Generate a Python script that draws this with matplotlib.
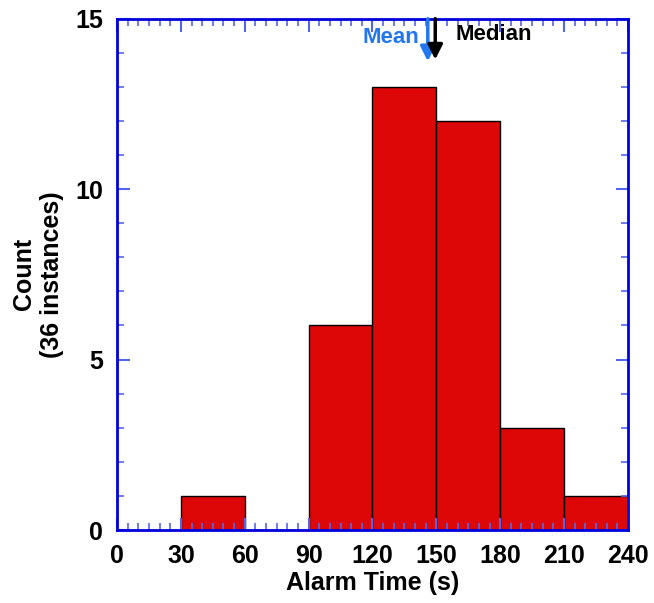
import matplotlib
matplotlib.use("Agg")
import matplotlib.pyplot as plt
from matplotlib.ticker import MultipleLocator

# histogram of alarm times, 30 s bins
bin_left = [30, 90, 120, 150, 180, 210]
counts = [1, 6, 13, 12, 3, 1]
bin_width = 30
mean_time = 146.0
median_time = 149.5

plt.rcParams["font.family"] = ["Liberation Sans", "DejaVu Sans"]
plt.rcParams["font.weight"] = "bold"

fig = plt.figure(figsize=(6.54, 6.03), dpi=100)
ax = fig.add_axes([0.179, 0.121, 0.781, 0.848])

ax.bar(bin_left, counts, width=bin_width, align="edge",
       color="#dd0707", edgecolor="black", linewidth=1)

ax.set_xlim(0, 240)
ax.set_ylim(0, 15)
ax.xaxis.set_major_locator(MultipleLocator(30))
ax.xaxis.set_minor_locator(MultipleLocator(5))
ax.yaxis.set_major_locator(MultipleLocator(5))
ax.yaxis.set_minor_locator(MultipleLocator(1))

spine_col = "#0000dd"
for s in ax.spines.values():
    s.set_color(spine_col)
    s.set_linewidth(2)
ax.tick_params(which="both", direction="in", top=True, right=True,
               color="#5566ee", labelsize=18, pad=10)
ax.tick_params(which="major", length=9, width=1.5)
ax.tick_params(which="minor", length=5, width=1.2)
for lab in ax.get_xticklabels() + ax.get_yticklabels():
    lab.set_fontweight("bold")

ax.set_xlabel("Alarm Time (s)", fontsize=18, fontweight="bold", labelpad=2)
ax.set_ylabel("Count\n(36 instances)", fontsize=18, fontweight="bold",
              labelpad=8)

# mean / median arrows from the top edge
ax.annotate("", xy=(mean_time, 13.75), xytext=(mean_time, 15),
            arrowprops=dict(arrowstyle="-|>", color="#2277ee", lw=2.5,
                            mutation_scale=22, shrinkA=0, shrinkB=0))
ax.annotate("", xy=(median_time, 13.8), xytext=(median_time, 15),
            arrowprops=dict(arrowstyle="-|>", color="black", lw=2.5,
                            mutation_scale=22, shrinkA=0, shrinkB=0))
ax.text(mean_time - 4, 14.45, "Mean", color="#2277ee", fontsize=16,
        fontweight="bold", ha="right", va="center")
ax.text(median_time + 9.5, 14.55, "Median", color="black", fontsize=16,
        fontweight="bold", ha="left", va="center")

fig.savefig("out.png", dpi=100)
